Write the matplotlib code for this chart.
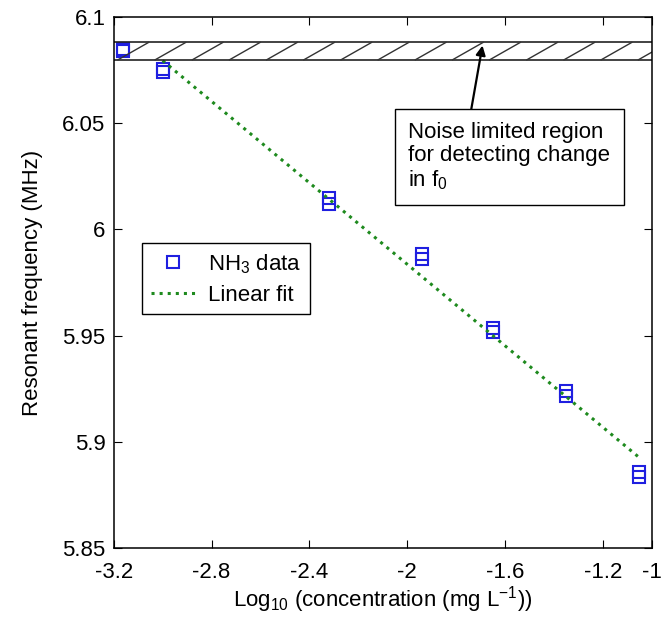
import matplotlib.pyplot as plt
import numpy as np

plt.rcParams['font.family'] = ['Liberation Sans', 'DejaVu Sans']
plt.rcParams['mathtext.fontset'] = 'custom'
plt.rcParams['mathtext.rm'] = 'Liberation Sans'

# log10 concentration (mg/L) and the two repeated frequency readings (MHz)
log_conc = [-3.16, -3.0, -2.32, -1.94, -1.65, -1.35, -1.05]
freq_run1 = [6.0850, 6.0755, 6.0150, 5.9885, 5.9535, 5.9240, 5.8860]
freq_run2 = [6.0838, 6.0740, 6.0122, 5.9860, 5.9515, 5.9215, 5.8835]

# linear fit end points
fit_x = [-3.0, -1.05]
fit_y = [6.0795, 5.8925]

# noise limited band
band_lo = 6.0797
band_hi = 6.0882

fig = plt.figure(figsize=(6.65, 6.19), dpi=100)
ax = fig.add_axes([0.171, 0.1147, 0.809, 0.8578])

blue = '#1f1fe0'
ax.plot(log_conc, freq_run1, 's', mfc='none', mec=blue, ms=8, mew=1.5,
        label='NH$_\\mathregular{3}$ data')
ax.plot(log_conc, freq_run2, 's', mfc='none', mec=blue, ms=8, mew=1.5)
ax.plot(fit_x, fit_y, ':', color='#1e8a1e', lw=2.2, label='Linear fit')

# hatched band
ax.axhline(band_lo, color='#222222', lw=1.2)
ax.axhline(band_hi, color='#222222', lw=1.2)
for x0 in np.arange(-3.185, -0.9, 0.152):
    ax.plot([x0, x0 + 0.13], [band_lo, band_hi], color='#333333', lw=1,
            solid_capstyle='butt', clip_on=True)

ax.annotate('Noise limited region\nfor detecting change\nin f$_\\mathregular{0}$',
            xy=(-1.692, 6.0866), xytext=(-1.995, 6.0505),
            fontsize=16, ha='left', va='top', linespacing=1.12,
            bbox=dict(boxstyle='square,pad=0.6', fc='white', ec='black', lw=1),
            arrowprops=dict(arrowstyle='-|>', color='black', lw=1.6,
                            mutation_scale=14, relpos=(0.3, 1.0),
                            shrinkA=0, shrinkB=0))

ax.set_xlim(-3.2, -1)
ax.set_ylim(5.85, 6.1)
ax.set_xticks([-3.2, -2.8, -2.4, -2, -1.6, -1.2, -1])
ax.set_xticklabels(['-3.2', '-2.8', '-2.4', '-2', '-1.6', '-1.2', '-1'])
ax.set_yticks([5.85, 5.9, 5.95, 6.0, 6.05, 6.1])
ax.set_yticklabels(['5.85', '5.9', '5.95', '6', '6.05', '6.1'])
ax.tick_params(direction='in', top=True, right=True, length=6, labelsize=16)
ax.tick_params(axis='x', pad=10)
ax.tick_params(axis='y', pad=6)
for s in ax.spines.values():
    s.set_linewidth(1.1)

ax.set_xlabel('Log$_\\mathregular{10}$ (concentration (mg L$^\\mathregular{-1}$))',
              fontsize=16, labelpad=1)
ax.set_ylabel('Resonant frequency (MHz)', fontsize=16, labelpad=14)

leg = ax.legend(loc='upper left', bbox_to_anchor=(0.052, 0.574), fontsize=16,
                fancybox=False, edgecolor='black', framealpha=1,
                handlelength=2.0, handletextpad=0.6, borderpad=0.4,
                borderaxespad=0, labelspacing=0.4)
leg.get_frame().set_linewidth(1)

fig.savefig('out.png', dpi=100)
